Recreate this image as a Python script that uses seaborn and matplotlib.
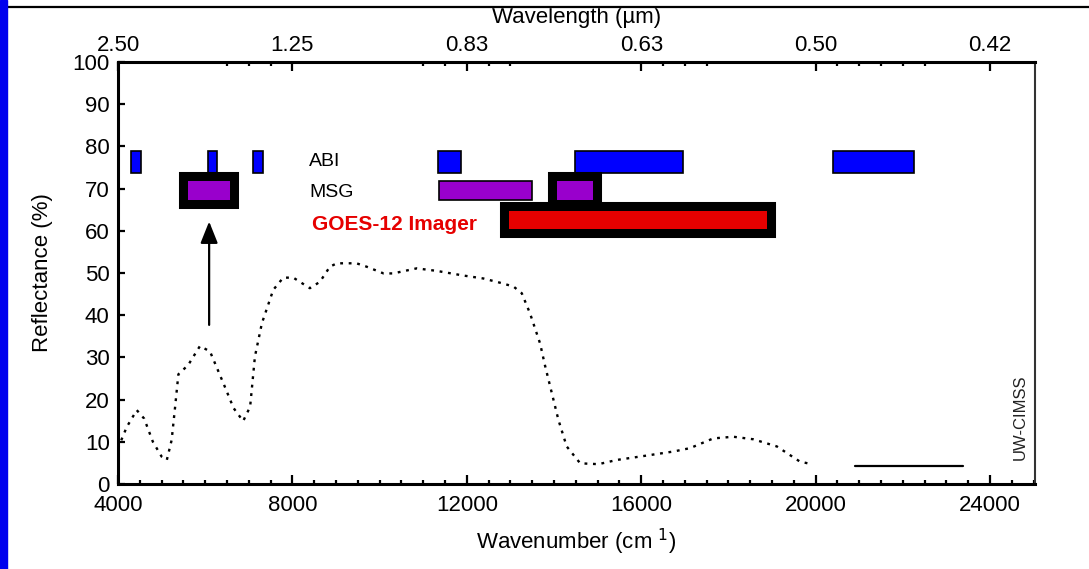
import matplotlib
matplotlib.use("Agg")
import matplotlib.pyplot as plt
import matplotlib.patheffects as pe
from matplotlib.lines import Line2D
from matplotlib.patches import Rectangle
import seaborn as sns

# Reflectance spectrum (wavenumber in cm-1, reflectance in %)
spec_wavenumber = [4000, 4200, 4430, 4600, 4800, 5000, 5120, 5230, 5310, 5385,
                   5610, 5880, 6110, 6420, 6650, 6870, 7030, 7140, 7300, 7560,
                   7790, 8020, 8400, 8630, 8860, 9020, 9470, 9700, 10090, 10310,
                   10850, 11310, 11920, 12380, 12760, 13070, 13260, 13450, 13680,
                   13790, 13950, 14100, 14290, 14600, 15020, 15440, 15970, 16740,
                   17120, 17650, 18110, 18570, 19110, 19640, 19910]
spec_reflectance = [8.5, 13.5, 17.5, 15.5, 10.0, 6.5, 5.7, 10.4, 18.3, 26.0,
                    28.2, 32.7, 31.4, 23.8, 18.0, 14.9, 18.3, 30.2, 38.1, 46.0,
                    48.9, 48.9, 46.4, 47.9, 51.5, 52.3, 52.3, 51.5, 49.9, 49.9,
                    51.1, 50.5, 49.4, 48.7, 47.7, 46.8, 45.2, 40.4, 33.3,
                    28.2, 21.5, 15.2, 8.9, 4.9, 4.7, 5.7, 6.5, 7.7,
                    8.5, 10.8, 11.2, 10.6, 8.9, 5.3, 4.7]

# Separate solid segment near the baseline
seg_wavenumber = [20900, 23390]
seg_reflectance = [4.3, 4.3]

# Instrument band limits (cm-1)
abi_start = [4300, 6070, 7100, 11340, 14480, 20400]
abi_end = [4530, 6270, 7330, 11870, 16960, 22260]
msg_start = [5610, 11360, 14070]
msg_end = [6570, 13500, 14890]
msg_framed = [True, False, True]
goes_start = [12970]
goes_end = [18890]

# Axis ticks
x_major = [4000, 8000, 12000, 16000, 20000, 24000]
top_labels = ["2.50", "1.25", "0.83", "0.63", "0.50", "0.42"]
top_minor = [6500, 7000, 7500, 11000, 11500, 12500, 13000, 16500, 17000,
             17500, 20500, 21000, 21500, 22000, 22500]
y_major = [0, 10, 20, 30, 40, 50, 60, 70, 80, 90, 100]

sns.set_style("ticks", {"text.color": "black", "axes.labelcolor": "black",
                        "xtick.color": "black", "ytick.color": "black",
                        "axes.edgecolor": "black"})
plt.rcParams["font.family"] = ["Liberation Sans", "DejaVu Sans"]

W, H = 1089, 569
fig = plt.figure(figsize=(W / 100, H / 100), dpi=100)
ax = fig.add_axes([118 / W, 1 - 484 / H, (1035 - 118) / W, (484 - 62) / H])

ax.set_xlim(4000, 25030)
ax.set_ylim(0, 100)

# Spectrum curve
sns.lineplot(x=spec_wavenumber, y=spec_reflectance, ax=ax, color="black",
             lw=1.7, linestyle=(0, (1.2, 2.4)), sort=False, estimator=None)
sns.lineplot(x=seg_wavenumber, y=seg_reflectance, ax=ax, color="black",
             lw=1.6, sort=False, estimator=None)

# Instrument bands
frame = [pe.withStroke(linewidth=13, foreground="black")]
ax.barh([76.3] * len(abi_start), [e - s for s, e in zip(abi_start, abi_end)],
        left=abi_start, height=5.2, color="#0000FF", edgecolor="black",
        lw=1.2, zorder=3)
for s, e, fr in zip(msg_start, msg_end, msg_framed):
    bars = ax.barh([69.5], [e - s], left=[s], height=4.6, color="#9900CC",
                   edgecolor="black" if not fr else "none",
                   lw=0 if fr else 1.2, zorder=3)
    if fr:
        bars.patches[0].set_path_effects(frame)
for s, e in zip(goes_start, goes_end):
    bars = ax.barh([62.6], [e - s], left=[s], height=4.3, color="#E60000",
                   lw=0, zorder=3)
    bars.patches[0].set_path_effects(frame)

# Arrow pointing at the MSG 1.6 um band
arrow_x = (msg_start[0] + msg_end[0]) / 2
ax.annotate("", xy=(arrow_x, 62.2), xytext=(arrow_x, 37.7),
            arrowprops=dict(arrowstyle="-|>,head_length=0.55,head_width=0.22",
                            color="black", lw=1.6, mutation_scale=24,
                            shrinkA=0, shrinkB=0))

# Band labels
ax.text(8380, 75.3, "ABI", fontsize=14, color="black", va="baseline")
ax.text(8380, 68.0, "MSG", fontsize=14, color="black", va="baseline")
ax.text(8460, 60.2, "GOES-12 Imager", fontsize=15, color="#E60000",
        fontweight="bold", va="baseline")

# Bottom / left axis styling
ax.set_xticks(x_major)
ax.set_xticklabels([str(v) for v in x_major])
ax.set_xticks(list(range(4000, 25001, 500)), minor=True)
ax.set_yticks(y_major)
ax.set_yticklabels([str(v) for v in y_major])
ax.tick_params(axis="x", which="major", direction="in", length=6.5, width=1.6,
               labelsize=16, pad=8, top=False, bottom=True, colors="black")
ax.tick_params(axis="x", which="minor", direction="in", length=3, width=1.6,
               top=False, bottom=True, colors="black")
ax.tick_params(axis="y", which="major", direction="in", length=5, width=1.6,
               labelsize=16, pad=6, right=False, colors="black")
ax.set_xlabel("Wavenumber (cm $^{1}$)", fontsize=16, labelpad=8, color="black")
ax.set_ylabel("Reflectance (%)", fontsize=16, labelpad=14, color="black")
for side in ["left", "bottom", "top"]:
    ax.spines[side].set_linewidth(2.2)
    ax.spines[side].set_color("black")
ax.spines["right"].set_linewidth(1.5)
ax.spines["right"].set_color("#333333")

# Top wavelength axis
ax_top = ax.twiny()
ax_top.set_xlim(ax.get_xlim())
ax_top.set_xticks(x_major)
ax_top.set_xticklabels(top_labels)
ax_top.set_xticks(top_minor, minor=True)
ax_top.tick_params(axis="x", which="major", direction="in", length=6.5,
                   width=1.6, labelsize=16, pad=4, colors="black")
ax_top.tick_params(axis="x", which="minor", direction="in", length=3,
                   width=1.6, colors="black")
for sp in ax_top.spines.values():
    sp.set_visible(False)
ax_top.grid(False)
ax.grid(False)

# Top axis title, tucked just under the page rule
fig.text((118 + 1035) / 2 / W, 1 - 17 / H, "Wavelength (\u00b5m)", fontsize=16,
         ha="center", va="center", color="black")

# Vertical credit text at the right edge
fig.text(1020 / W, 1 - 417 / H, "UW-CIMSS", rotation=90, fontsize=12,
         ha="center", va="center", color="#222222")

# Page frame: blue strip on the left and a rule along the top
fig.add_artist(Rectangle((7 / W, 1 - 7 / H), 1, 7 / H, transform=fig.transFigure,
                         color="white", zorder=10))
fig.add_artist(Line2D([7 / W, 1], [1 - 7 / H, 1 - 7 / H], color="black",
                      lw=1.6, zorder=11, transform=fig.transFigure))
fig.add_artist(Rectangle((0, 0), 7 / W, 1, transform=fig.transFigure,
                         color="#0000EE", zorder=12))

fig.savefig("out.png", dpi=100)
